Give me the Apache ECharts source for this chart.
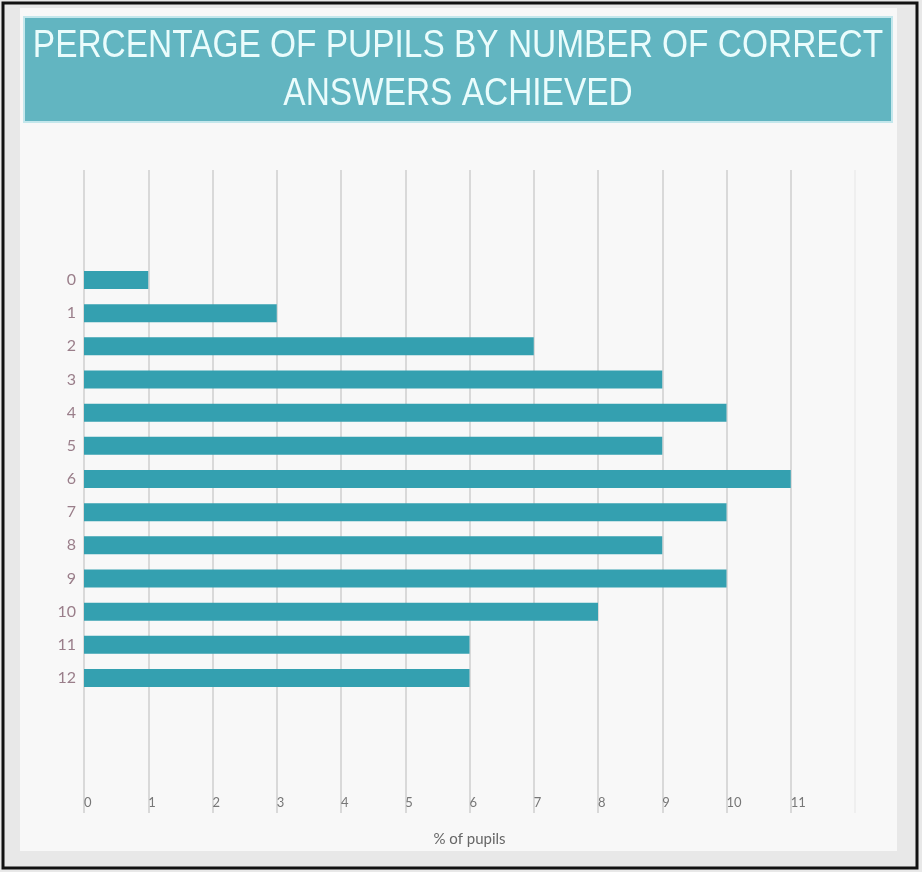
<!DOCTYPE html>
<html>
<head>
<meta charset="utf-8">
<script src="https://cdn.jsdelivr.net/npm/echarts@6/dist/echarts.min.js"></script>
<style>html,body{margin:0;padding:0;background:#e8e8e8}#c{width:922px;height:872px}</style>
</head>
<body>
<div id="c"></div>
<script>
var categories = ['0','1','2','3','4','5','6','7','8','9','10','11','12'];
var pupilsPct = [1, 3, 7, 9, 10, 9, 11, 10, 9, 10, 8, 6, 6];
var xTicks = [0,1,2,3,4,5,6,7,8,9,10,11,12];
var titleLines = ['PERCENTAGE OF PUPILS BY NUMBER OF CORRECT', 'ANSWERS ACHIEVED'];
var xAxisName = '% of pupils';

var chart = echarts.init(document.getElementById('c'));
var gridColors = xTicks.map(function(t){ return t === 12 ? '#ececec' : '#cfcfcf'; });
var option = {
  backgroundColor: '#e8e8e8',
  animation: false,
  graphic: [
    {type:'rect', z:-100, shape:{x:3,y:3,width:914,height:865}, style:{fill:'#e8e8e8', stroke:'#111', lineWidth:3}},
    {type:'rect', z:-99, shape:{x:20,y:8,width:877,height:843}, style:{fill:'#f8f8f8'}},
    {type:'rect', z:-98, shape:{x:24,y:17,width:868,height:105}, style:{fill:'#62b5c1', stroke:'#c4e7ec', lineWidth:2}},
    {type:'text', z:10, x:458, y:47, scaleX:0.88, originX:0, originY:0, style:{text:titleLines[0], fill:'#eafcfc', font:'38px "Liberation Sans"', align:'center', verticalAlign:'middle'}},
    {type:'text', z:10, x:458, y:95, scaleX:0.88, originX:0, originY:0, style:{text:titleLines[1], fill:'#eafcfc', font:'38px "Liberation Sans"', align:'center', verticalAlign:'middle'}}
  ],
  grid: [
    {left:84, right:67, top:170, bottom:59},
    {left:84, right:67, top:263.4, bottom:177.4}
  ],
  xAxis: [
    {gridIndex:0, type:'value', min:0, max:12, interval:1,
     axisLine:{show:false}, axisTick:{show:false},
     splitLine:{show:true, lineStyle:{color:gridColors, width:1.5}},
     axisLabel:{inside:true, align:'left', margin:4, color:'#777', fontSize:13, fontFamily:'Lato',
       formatter:function(v){ return v === 12 ? '' : String(v); }},
     name:xAxisName, nameLocation:'middle', nameGap:19,
     nameTextStyle:{color:'#666', fontSize:15, fontFamily:'Lato'}},
    {gridIndex:1, type:'value', min:0, max:12, interval:1, show:false}
  ],
  yAxis: [
    {gridIndex:0, type:'value', show:false},
    {gridIndex:1, type:'category', data:categories, inverse:true,
     axisLine:{show:false}, axisTick:{show:false}, splitLine:{show:false},
     axisLabel:{color:'#9a7e8a', fontSize:16, fontFamily:'Lato', margin:8}}
  ],
  series: [
    {type:'bar', xAxisIndex:1, yAxisIndex:1, data:pupilsPct, barWidth:18,
     itemStyle:{color:'#34a0b0'}}
  ]
};
chart.setOption(option);
</script>
</body>
</html>
